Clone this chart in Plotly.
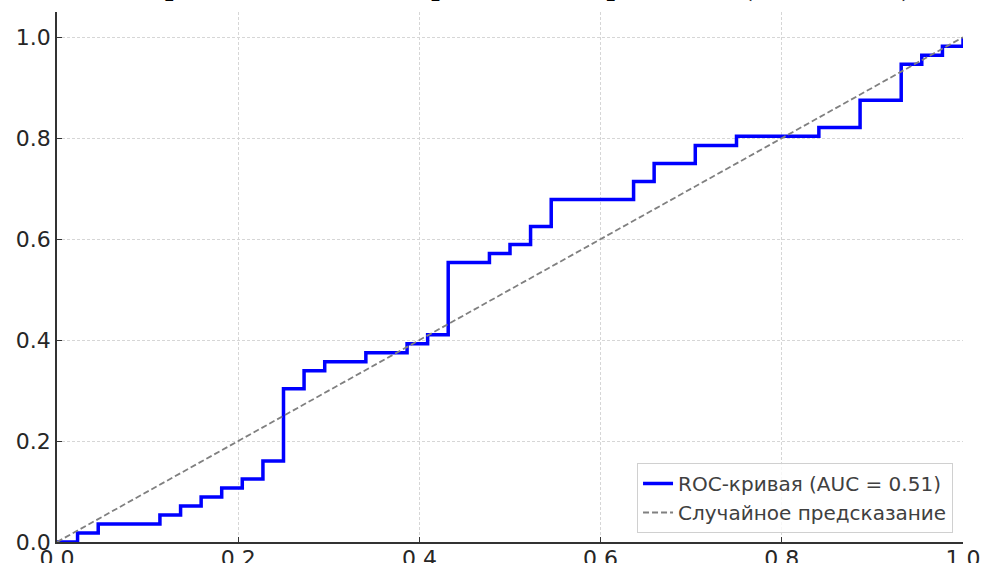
import plotly.graph_objects as go

# ROC curve step points (false positive rate, true positive rate)
fpr = [0.0, 0.0227, 0.0455, 0.1136, 0.1364, 0.1591, 0.1818, 0.2045, 0.2273,
       0.25, 0.2727, 0.2955, 0.3409, 0.3864, 0.4091, 0.4318, 0.4773, 0.5,
       0.5227, 0.5455, 0.6364, 0.6591, 0.7045, 0.75, 0.8409, 0.8864, 0.9318,
       0.9545, 0.9773, 1.0]
tpr = [0.0, 0.0179, 0.0357, 0.0536, 0.0714, 0.0893, 0.1071, 0.125, 0.1607,
       0.3036, 0.3393, 0.3571, 0.375, 0.3929, 0.4107, 0.5536, 0.5714, 0.5893,
       0.625, 0.6786, 0.7143, 0.75, 0.7857, 0.8036, 0.8214, 0.875, 0.9464,
       0.9643, 0.9821, 1.0]
diag_x = [0.0, 1.0]
diag_y = [0.0, 1.0]
tick_vals = [0.0, 0.2, 0.4, 0.6, 0.8, 1.0]
tick_text = ["0.0", "0.2", "0.4", "0.6", "0.8", "1.0"]
roc_label = "ROC-кривая (AUC = 0.51)"
diag_label = "Случайное предсказание"
title_text = "ROC-кривая для модели предсказания рецидива (AUC = 0,51)"

fig = go.Figure()
fig.add_trace(go.Scatter(
    x=fpr, y=tpr, mode="lines", line_shape="hv",
    line=dict(color="#0000ff", width=3.5), name=roc_label))
fig.add_trace(go.Scatter(
    x=diag_x, y=diag_y, mode="lines",
    line=dict(color="#808080", width=1.8, dash="6px,3px"), name=diag_label))

axis_common = dict(
    showgrid=True, gridcolor="#d6d6d6", griddash="3px,2px", gridwidth=1,
    zeroline=False, showline=True, linecolor="#333333", linewidth=1.6,
    ticks="inside", ticklen=5, tickwidth=1.4, tickcolor="#333333",
    tickvals=tick_vals, ticktext=tick_text, automargin=False,
    tickfont=dict(family="DejaVu Sans", size=22, color="#262626"),
)
fig.update_xaxes(range=[0, 1.0], ticklabelstandoff=-4, **axis_common)
fig.update_yaxes(range=[0, 1.05], **axis_common)

fig.add_annotation(
    text=title_text, xref="paper", yref="paper", x=0.48, y=1.017,
    xanchor="center", yanchor="bottom", showarrow=False, borderpad=0,
    font=dict(family="Liberation Serif", size=30, color="black", weight="bold"))

fig.update_layout(
    width=981, height=563,
    margin=dict(l=57, r=18, t=12, b=21),
    plot_bgcolor="white", paper_bgcolor="white",
    showlegend=True,
    legend=dict(
        x=0.989, y=0.017, xanchor="right", yanchor="bottom",
        bgcolor="rgba(255,255,255,0.8)", bordercolor="#d0d0d0", borderwidth=1,
        font=dict(family="DejaVu Sans", size=20, color="#404040"),
        tracegroupgap=0, itemwidth=30),
)

fig.write_html("out.html", config={"displayModeBar": False},
               post_script="document.body.style.margin='0';")
